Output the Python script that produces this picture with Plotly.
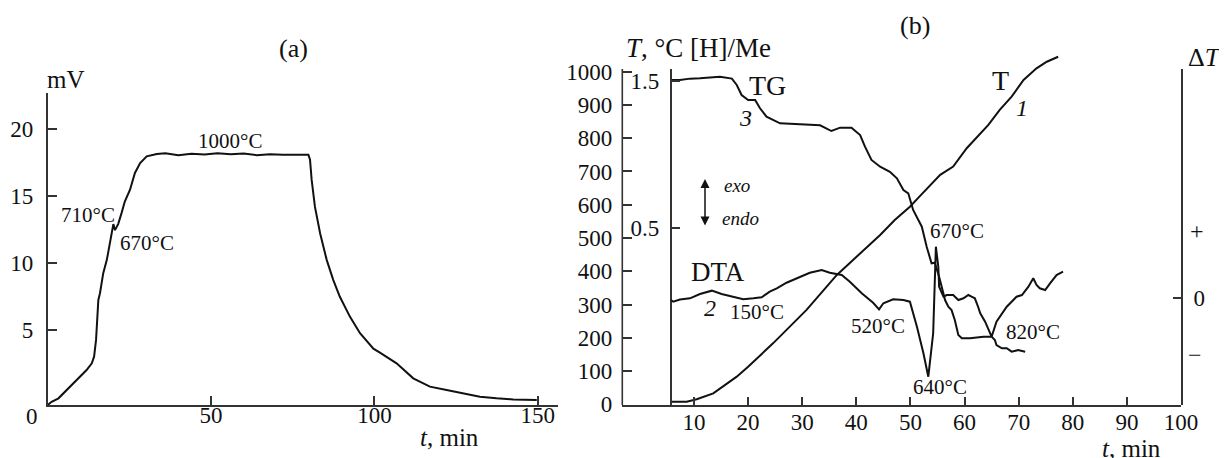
import plotly.graph_objects as go

# the page body has an 8px margin, so the figure is drawn 8px smaller and all pixel
# positions below are given in window pixels and shifted by OFF
OFF = 8
WIN_W, WIN_H = 1227, 458
W, H = WIN_W - OFF, WIN_H - OFF
FONT = "Liberation Serif"
INK = "#111111"
AX = "#333333"

# ---------------- Panel (a) data: thermocouple signal, mV vs t, min ----------------
a_t = [0, 1.2, 3.3, 5.3, 7.3, 9.4, 11.9, 13.5, 14.2, 14.8, 15.2, 15.5, 16.0, 17.0, 18.1, 19.3,
       19.9, 20.1, 20.6, 21.6, 22.6, 23.6, 25.2, 26.7, 28.3, 30.3, 33.4, 36, 40, 44, 48, 52,
       56, 60, 64, 68, 72, 76, 79.8, 80.3, 80.8, 81.8, 83.4, 85.4, 87.4, 89.4, 92.5, 95.6,
       99.7, 101.7, 106.8, 111.9, 117.0, 122.1, 127.2, 132.3, 137.4, 142.5, 149.7]
a_mv = [-0.61, -0.37, -0.11, 0.38, 0.88, 1.38, 2.0, 2.5, 3.0, 4.25, 5.74, 7.24, 7.74, 9.24, 10.23, 11.73,
        12.48, 12.9, 12.45, 12.92, 13.72, 14.59, 15.47, 16.72, 17.46, 17.96, 18.14, 18.2, 18.05, 18.15, 18.1, 18.2,
        18.12, 18.18, 18.05, 18.12, 18.08, 18.1, 18.08, 17.71, 16.2, 14.2, 12.2, 10.23, 8.74, 7.49, 5.99, 4.75,
        3.6, 3.3, 2.5, 1.38, 0.76, 0.51, 0.26, 0.01, -0.11, -0.19, -0.24]
a_xticks = [50, 100, 150]
a_yticks = [5, 10, 15, 20]

# ---------------- Panel (b) data ----------------
# curve 1: temperature T, deg C
T_t = [5.88, 8.65, 10.5, 13.56, 17.9, 20.0, 24.65, 30.8, 36.4, 44.4, 47.1, 49.9, 51.7, 54.2, 55.5,
       57.9, 60.4, 64.4, 66.5, 68.7, 70.9, 73.3, 75.2, 77.3]
T_val = [7.8, 7.8, 15, 33, 83, 113, 184, 284, 389, 509, 554, 594, 625, 667, 690,
         715, 770, 840, 885, 925, 975, 1010, 1030, 1045]

# curve 3: TG, [H]/Me
TG_t = [5.75, 7.4, 9.26, 11.1, 14.8, 17.0, 17.9, 18.8, 20.0, 21.3, 22.2, 23.4, 25.9, 28.3, 30.8,
        33.3, 35.4, 37.0, 39.1, 40.7, 41.6, 42.8, 44.4, 46.2, 47.5, 48.7, 49.6, 50.5, 52.1, 53.0,
        53.9, 54.5, 55.3, 56.4, 57.0, 57.6, 58.2, 58.85, 59.5, 61.0, 63.5, 65.0, 65.6, 65.9, 66.9,
        67.8, 68.7, 69.9, 71.2]
TG_val = [1.505, 1.505, 1.514, 1.516, 1.527, 1.514, 1.471, 1.403, 1.369, 1.369, 1.313, 1.256, 1.211, 1.207, 1.202,
          1.198, 1.159, 1.182, 1.182, 1.132, 1.053, 0.963, 0.917, 0.883, 0.839, 0.759, 0.737, 0.624, 0.511, 0.375,
          0.263, 0.267, 0.172, 0.014, -0.031, -0.054, -0.121, -0.223, -0.245, -0.245, -0.234, -0.234, -0.257, -0.291, -0.313,
          -0.313, -0.336, -0.325, -0.336]

# curve 2: DTA, Delta T (relative units)
DTA_t = [5.75, 6.17, 7.4, 9.26, 11.1, 13.3, 15.1, 17.3, 19.1, 21.0, 22.5, 24.0, 25.3, 27.1, 29.6,
         31.4, 33.6, 35.1, 37.3, 38.8, 41.0, 43.1, 44.2, 45.0, 46.8, 48.7, 49.9, 51.2, 52.4, 53.3,
         54.2, 54.7, 55.15, 55.3, 56.1, 56.7, 57.9, 58.85, 59.8, 60.7, 61.3, 61.9, 62.5, 62.9, 63.8,
         64.4, 65.0, 65.9, 66.9, 67.8, 68.7, 69.6, 70.6, 71.8, 72.7, 73.3, 73.9, 74.9, 75.8, 77.0, 78.2]
DTA_val = [-0.03, -0.06, -0.02, 0.0, 0.076, 0.135, 0.076, 0.018, -0.018, 0.0, 0.018, 0.117, 0.177, 0.276, 0.382,
           0.453, 0.501, 0.453, 0.412, 0.294, 0.088, -0.078, -0.195, -0.088, -0.018, -0.03, -0.06, -0.503, -0.973, -1.388,
           -0.619, 0.913, 0.559, 0.205, 0.028, 0.058, 0.058, -0.03, 0.0, 0.058, 0.028, 0.0, -0.149, -0.265, -0.414,
           -0.561, -0.680, -0.414, -0.265, -0.149, -0.06, 0.028, 0.058, 0.205, 0.354, 0.235, 0.177, 0.147, 0.265, 0.412, 0.471]

b_xticks = [10, 20, 30, 40, 50, 60, 70, 80, 90, 100]
b_Tticks = [0, 100, 200, 300, 400, 500, 600, 700, 800, 900, 1000]
b_Hticks = [0.5, 1.5]
b_dTticks = [0]


def px(x):
    return (x - OFF) / W


def py(y):
    return 1 - (y - OFF) / H


line_style = dict(color=INK, width=2)

fig = go.Figure()
fig.add_trace(go.Scatter(x=a_t, y=a_mv, mode="lines", line=line_style, xaxis="x", yaxis="y"))
fig.add_trace(go.Scatter(x=T_t, y=T_val, mode="lines", line=line_style, xaxis="x2", yaxis="y2"))
fig.add_trace(go.Scatter(x=TG_t, y=TG_val, mode="lines", line=line_style, xaxis="x2", yaxis="y3"))
fig.add_trace(go.Scatter(x=DTA_t, y=DTA_val, mode="lines", line=line_style, xaxis="x2", yaxis="y4"))

tickfont = dict(family=FONT, size=23, color=INK)
common = dict(showline=True, linecolor=AX, linewidth=1.6, ticks="inside", tickcolor=AX, tickwidth=1.6,
              showgrid=False, zeroline=False, tickfont=tickfont, automargin=False, layer="above traces")

# panel b geometry (window pixels)
T0_px, T_slope = 404.3, 0.3326
b_bottom, b_top, b_curve_top = 405.0, 69.0, 30.0
b_left, b_right, h_axis_x = 622.3, 1181.0, 670.7

fig.update_layout(
    template="none",
    width=W, height=H, margin=dict(l=0, r=0, t=0, b=0, pad=0, autoexpand=False),
    paper_bgcolor="white", plot_bgcolor="rgba(0,0,0,0)", showlegend=False,
    font=dict(family=FONT, color=INK),
    xaxis=dict(domain=[px(47.7), px(558.3)], range=[0, 156.3], anchor="y",
               tickvals=a_xticks, ticklen=9, ticklabelstandoff=-11, **common),
    yaxis=dict(domain=[py(405), py(93.3)], range=[-0.61, 22.67], anchor="x",
               tickvals=a_yticks, ticklen=9, ticklabelstandoff=8, **common),
    xaxis2=dict(domain=[px(b_left), px(b_right)], range=[-3.25, 100], anchor="y2",
                tickvals=b_xticks, ticklen=8, ticklabelstandoff=-4, **common),
    # T axis: tall domain so that curve 1 may rise above the axis top; its line drawn as a shape
    yaxis2=dict(domain=[py(b_bottom), py(b_curve_top)],
                range=[(T0_px - b_bottom) / T_slope, (T0_px - b_curve_top) / T_slope], anchor="x2",
                tickvals=b_Tticks, ticklen=10, ticklabelstandoff=9,
                **{**common, "showline": False}),
    yaxis3=dict(domain=[py(b_bottom), py(b_top)], anchor="free", position=px(h_axis_x), side="left",
                range=[1.5 - (b_bottom - 80.7) / 147.6, 1.5 + (80.7 - b_top) / 147.6],
                tickvals=b_Hticks, ticktext=["0.5", "1.5"], ticklen=8, ticklabelstandoff=6, **common),
    yaxis4=dict(domain=[py(b_bottom), py(b_top)], anchor="x2", side="right",
                range=[-(b_bottom - 298.3) / 56.5, (298.3 - b_top) / 56.5],
                tickvals=b_dTticks, ticklen=8, ticklabelstandoff=6, **common),
)

fig.add_shape(type="line", xref="paper", yref="paper", x0=px(b_left), x1=px(b_left),
              y0=py(b_bottom), y1=py(b_top), line=dict(color=AX, width=1.6))

ann = []


def text(x, y, s, size=21, xanchor="center", italic=False):
    if italic:
        s = "<i>" + s + "</i>"
    ann.append(dict(x=px(x), y=py(y), xref="paper", yref="paper", text=s, showarrow=False,
                    xanchor=xanchor, yanchor="middle", font=dict(family=FONT, size=size, color=INK)))


# panel (a)
text(293, 48, "(a)", 26)
text(66, 79, "mV", 25)
text(32, 416, "0", 23)
text(230, 141, "1000°C", 21)
text(88, 215, "710°C", 21)
text(147, 243, "670°C", 21)
text(449, 437, "<i>t</i>, min", 25)

# panel (b)
text(915, 25, "(b)", 26)
text(624, 48, "<i>T</i>, °C [H]/Me", 27, xanchor="left")
text(1204, 57, "Δ<i>T</i>", 26)
text(1197, 231, "+", 24)
text(1195, 355, "−", 24)
text(1131, 448, "<i>t</i>, min", 25)
text(767, 85, "TG", 28)
text(745, 118, "3", 24, italic=True)
text(1000, 80, "T", 28)
text(1022, 108, "1", 24, italic=True)
text(737, 185, "exo", 19, italic=True)
text(740, 218, "endo", 19, italic=True)
text(718, 272, "DTA", 27)
text(710, 308, "2", 24, italic=True)
text(757, 312, "150°C", 21)
text(878, 326, "520°C", 21)
text(940, 387, "640°C", 21)
text(957, 231, "670°C", 21)
text(1033, 332, "820°C", 21)

# exo/endo double arrow
ann.append(dict(x=px(705), y=py(179), xref="paper", yref="paper", ax=0, ay=48, axref="pixel", ayref="pixel",
                text="", showarrow=True, arrowhead=2, arrowside="end+start", arrowsize=1.2, arrowwidth=1.5,
                arrowcolor=INK))

fig.update_layout(annotations=ann)
fig.write_html("out.html")
